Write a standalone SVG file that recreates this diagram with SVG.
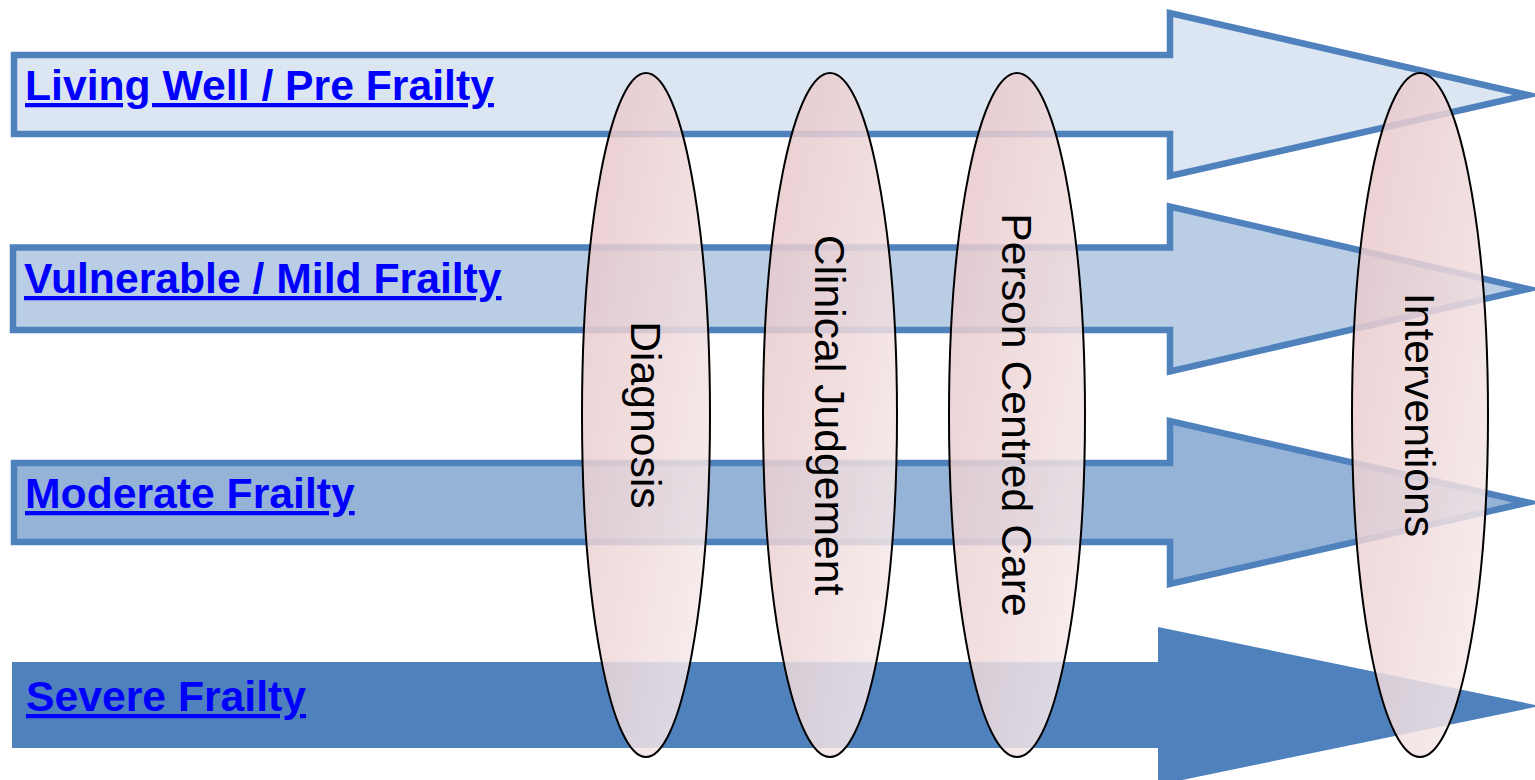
<svg xmlns="http://www.w3.org/2000/svg" width="1535" height="780" viewBox="0 0 1535 780">
  <style>
    .arrow { stroke: #4F81BD; stroke-width: 6.5; stroke-linejoin: miter; stroke-miterlimit: 10; }
    .label { font-family: "Liberation Sans", Arial, sans-serif; font-weight: bold; font-size: 42.7px; fill: #0000FF; text-decoration: underline; text-decoration-thickness: 4px; text-underline-offset: 5px; }
    .oval { fill: url(#pinkGrad); stroke: #000000; stroke-width: 2; }
    .vtext { font-family: "Liberation Sans", Arial, sans-serif; font-size: 42.7px; fill: #000000; text-anchor: middle; }
  </style>
  <defs>
    <linearGradient id="pinkGrad" x1="0" y1="0" x2="1" y2="1">
      <stop offset="0" stop-color="#E6C3C6" stop-opacity="0.85"/>
      <stop offset="1" stop-color="#F8EEEE" stop-opacity="0.85"/>
    </linearGradient>
  </defs>
  <rect x="0" y="0" width="1535" height="780" fill="#FFFFFF"/>

  <g id="arrow-living-well">
    <polygon class="arrow" fill="#DCE6F2" points="14,55 1170,55 1170,13 1528,95 1170,176 1170,134 14,134"/>
    <text class="label" x="25" y="100">Living Well / Pre Frailty</text>
  </g>
  <g id="arrow-vulnerable">
    <polygon class="arrow" fill="#B9CDE5" points="13,247.5 1170,247.5 1170,206.5 1528,289 1170,371.5 1170,330 13,330"/>
    <text class="label" x="24" y="293">Vulnerable / Mild Frailty</text>
  </g>
  <g id="arrow-moderate">
    <polygon class="arrow" fill="#95B3D7" points="14,463 1170,463 1170,421 1528,502.5 1170,584 1170,542 14,542"/>
    <text class="label" x="25" y="508">Moderate Frailty</text>
  </g>
  <g id="arrow-severe">
    <polygon fill="#4F81BD" points="12,662 1158,662 1158,627 1540,706 1158,785 1158,748 12,748"/>
    <text class="label" x="26" y="711">Severe Frailty</text>
  </g>

  <g id="connectors"></g>

  <g id="oval-diagnosis">
    <ellipse class="oval" cx="646" cy="415" rx="64" ry="342"/>
    <text class="vtext" x="646" y="430" transform="rotate(90 646 415)">Diagnosis</text>
  </g>
  <g id="oval-clinical-judgement">
    <ellipse class="oval" cx="830" cy="415" rx="67" ry="342"/>
    <text class="vtext" x="830" y="430" transform="rotate(90 830 415)">Clinical Judgement</text>
  </g>
  <g id="oval-person-centred-care">
    <ellipse class="oval" cx="1017" cy="415" rx="68" ry="342"/>
    <text class="vtext" x="1017" y="430" transform="rotate(90 1017 415)">Person Centred Care</text>
  </g>
  <g id="oval-interventions">
    <ellipse class="oval" cx="1420" cy="415" rx="68" ry="342"/>
    <text class="vtext" x="1420" y="430" transform="rotate(90 1420 415)">Interventions</text>
  </g>
</svg>
